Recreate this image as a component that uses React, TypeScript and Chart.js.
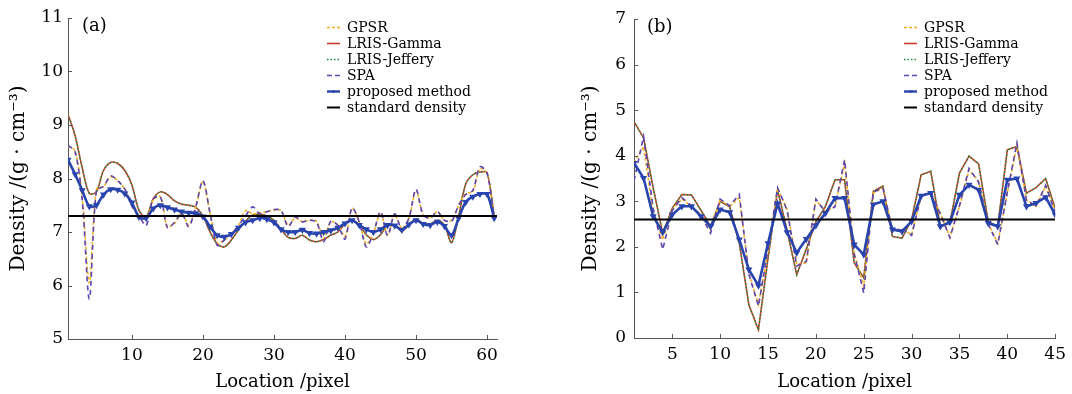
import React, { useEffect, useRef } from 'react';
import { Chart, registerables } from 'chart.js';

Chart.register(...registerables);

const FONT = '"DejaVu Serif", "Liberation Serif", serif';

// ---------- Panel (a) ----------
const locationsA = Array.from({ length: 61 }, (_, i) => i + 1);
const xTicksA = [10, 20, 30, 40, 50, 60];
const standardA = 7.3;
const gpsrA = [
  8.6, 8.52, 7.66, 6.05, 7.8, 7.85, 8.03, 7.96, 7.8, 7.5,
  7.3, 7.25, 7.6, 7.66, 7.1, 7.16, 7.35, 7.13, 7.47, 7.94,
  7.35, 6.8, 6.85, 6.97, 7.12, 7.4, 7.34, 7.36, 7.38, 7.41,
  7.4, 7.13, 7.26, 7.19, 7.22, 7.2, 6.88, 7.19, 7.13, 6.92,
  7.44, 7.19, 6.78, 6.98, 7.36, 6.95, 7.32, 7.07, 7.26, 7.78,
  7.32, 7.26, 7.38, 7.22, 7.22, 7.5, 7.72, 7.75, 8.18, 8.1, 7.3,
];
const gammaA = [
  9.2, 8.8, 8.2, 7.72, 7.75, 8.15, 8.3, 8.28, 8.15, 7.88,
  7.4, 7.28, 7.62, 7.75, 7.7, 7.58, 7.52, 7.5, 7.46, 7.3,
  7.0, 6.78, 6.72, 6.85, 7.04, 7.2, 7.32, 7.33, 7.3, 7.22,
  7.05, 6.9, 6.88, 6.94, 6.85, 6.82, 6.86, 6.94, 7.0, 7.15,
  7.22, 7.13, 6.95, 6.86, 6.95, 7.13, 7.12, 7.02, 7.14, 7.24,
  7.16, 7.15, 7.22, 7.13, 6.8, 7.3, 7.9, 8.07, 8.12, 8.11, 7.3,
];
const jefferyA = [
  9.2, 8.8, 8.2, 7.72, 7.75, 8.15, 8.3, 8.28, 8.15, 7.88,
  7.4, 7.28, 7.62, 7.75, 7.7, 7.58, 7.52, 7.5, 7.46, 7.3,
  7.0, 6.78, 6.72, 6.85, 7.04, 7.2, 7.32, 7.33, 7.3, 7.22,
  7.05, 6.9, 6.88, 6.94, 6.85, 6.82, 6.86, 6.94, 7.0, 7.15,
  7.22, 7.13, 6.95, 6.86, 6.95, 7.13, 7.12, 7.02, 7.14, 7.24,
  7.16, 7.15, 7.22, 7.13, 6.8, 7.3, 7.9, 8.07, 8.12, 8.11, 7.3,
];
const spaA = [
  8.62, 8.5, 7.6, 5.75, 7.78, 7.85, 8.05, 7.96, 7.8, 7.48,
  7.3, 7.12, 7.62, 7.66, 7.08, 7.18, 7.35, 7.1, 7.48, 7.96,
  7.35, 6.75, 6.85, 6.97, 7.12, 7.3, 7.47, 7.34, 7.38, 7.42,
  7.4, 7.1, 7.28, 7.19, 7.22, 7.18, 6.82, 7.2, 7.12, 6.87,
  7.45, 7.19, 6.72, 6.98, 7.38, 6.93, 7.34, 7.05, 7.26, 7.8,
  7.32, 7.26, 7.38, 7.22, 7.2, 7.5, 7.7, 7.78, 8.22, 8.1, 7.28,
];
const proposedA = [
  8.35, 8.08, 7.78, 7.48, 7.5, 7.7, 7.8, 7.79, 7.72, 7.55,
  7.28, 7.26, 7.44, 7.5, 7.46, 7.42, 7.38, 7.36, 7.35, 7.29,
  7.1, 6.94, 6.91, 6.96, 7.08, 7.18, 7.22, 7.26, 7.24, 7.18,
  7.05, 7.0, 7.0, 7.04, 6.98, 6.97, 7.0, 7.03, 7.08, 7.16,
  7.22, 7.13, 7.05, 7.0, 7.05, 7.13, 7.12, 7.04, 7.14, 7.22,
  7.15, 7.13, 7.19, 7.11, 6.94, 7.26, 7.56, 7.66, 7.71, 7.71, 7.26,
];

// ---------- Panel (b) ----------
const locationsB = Array.from({ length: 45 }, (_, i) => i + 1);
const xTicksB = [5, 10, 15, 20, 25, 30, 35, 40, 45];
const standardB = 2.6;
const gpsrB = [
  3.85, 4.2, 2.75, 2.16, 2.82, 3.05, 2.89, 2.7, 2.38, 3.03,
  2.89, 3.08, 1.43, 0.73, 1.9, 3.28, 2.82, 1.61, 1.65, 3.03,
  2.78, 2.89, 3.84, 1.87, 1.13, 3.18, 3.29, 2.38, 2.38, 2.27,
  3.11, 3.18, 2.74, 2.22, 2.89, 3.69, 3.44, 2.52, 2.08, 3.18,
  4.22, 3.03, 2.89, 3.33, 2.78,
];
const gammaB = [
  4.75, 4.39, 3.3, 2.3, 2.85, 3.15, 3.14, 2.8, 2.45, 3.0,
  2.88, 2.08, 0.73, 0.18, 1.75, 3.25, 2.35, 1.39, 1.95, 2.55,
  2.89, 3.47, 3.47, 1.65, 1.32, 3.22, 3.33, 2.23, 2.19, 2.6,
  3.58, 3.66, 2.45, 2.52, 3.62, 3.99, 3.82, 2.56, 2.45, 4.13,
  4.2, 3.18, 3.3, 3.5, 2.85,
];
const jefferyB = [
  4.75, 4.39, 3.3, 2.3, 2.85, 3.15, 3.14, 2.8, 2.45, 3.0,
  2.88, 2.08, 0.73, 0.18, 1.75, 3.25, 2.35, 1.39, 1.95, 2.55,
  2.89, 3.47, 3.47, 1.65, 1.32, 3.22, 3.33, 2.23, 2.19, 2.6,
  3.58, 3.66, 2.45, 2.52, 3.62, 3.99, 3.82, 2.56, 2.45, 4.13,
  4.2, 3.18, 3.3, 3.5, 2.85,
];
const spaB = [
  3.45, 4.42, 2.85, 1.94, 2.8, 3.08, 2.9, 2.68, 2.3, 3.05,
  2.9, 3.15, 1.4, 0.7, 1.95, 3.3, 2.8, 1.58, 1.68, 3.05,
  2.76, 2.88, 3.91, 1.85, 0.99, 3.2, 3.3, 2.36, 2.4, 2.25,
  3.12, 3.2, 2.72, 2.2, 2.9, 3.72, 3.42, 2.5, 2.05, 3.2,
  4.28, 3.02, 2.9, 3.35, 2.76,
];
const proposedB = [
  3.84, 3.51, 2.67, 2.32, 2.71, 2.89, 2.89, 2.67, 2.45, 2.82,
  2.76, 2.16, 1.5, 1.15, 2.08, 2.95, 2.32, 1.87, 2.17, 2.47,
  2.74, 3.07, 3.07, 2.05, 1.83, 2.93, 3.0, 2.38, 2.34, 2.56,
  3.12, 3.18, 2.45, 2.54, 3.14, 3.36, 3.25, 2.52, 2.45, 3.47,
  3.5, 2.89, 2.96, 3.09, 2.71,
];

const seriesNames = ['GPSR', 'LRIS-Gamma', 'LRIS-Jeffery', 'SPA', 'proposed method', 'standard density'];

const STYLES = [
  { color: '#f0b024', width: 1.6, dash: [3, 2], order: 3 },
  { color: '#cf3a2a', width: 1.5, dash: [], order: 5 },
  { color: '#1f8a3a', width: 1.5, dash: [1.5, 2], order: 4 },
  { color: '#5e44b0', width: 1.6, dash: [5, 4], order: 2 },
  { color: '#2a44ae', width: 2.6, dash: [], order: 1 },
  { color: '#000000', width: 2, dash: [], order: 0 },
];

const decorPlugin = {
  id: 'decor',
  afterDraw(chart: any, _args: any, opts: any) {
    const ctx = chart.ctx;
    const xs = chart.scales.x;
    const ys = chart.scales.y;
    ctx.save();
    // inward tick marks
    ctx.strokeStyle = '#555';
    ctx.lineWidth = 1;
    ctx.setLineDash([]);
    ctx.beginPath();
    xs.ticks.forEach((t: any) => {
      const px = Math.round(xs.getPixelForValue(t.value)) + 0.5;
      ctx.moveTo(px, ys.bottom);
      ctx.lineTo(px, ys.bottom - 4);
    });
    ys.ticks.forEach((t: any) => {
      const py = Math.round(ys.getPixelForValue(t.value)) + 0.5;
      ctx.moveTo(xs.left, py);
      ctx.lineTo(xs.left + 4, py);
    });
    ctx.stroke();

    // panel label
    ctx.fillStyle = '#000';
    ctx.font = `18px ${FONT}`;
    ctx.textBaseline = 'alphabetic';
    ctx.textAlign = 'left';
    ctx.fillText(opts.label, opts.labelX, opts.labelY);

    // legend
    ctx.font = `14px ${FONT}`;
    ctx.textBaseline = 'middle';
    seriesNames.forEach((name, i) => {
      const st = STYLES[i];
      const y = opts.legY + i * 16;
      const x0 = opts.legX;
      ctx.strokeStyle = st.color;
      ctx.lineWidth = i === 5 ? 2 : i === 4 ? 2.4 : 1.6;
      ctx.setLineDash(i === 3 ? [5, 3] : st.dash);
      ctx.beginPath();
      ctx.moveTo(x0, y + 0.5);
      ctx.lineTo(x0 + 13, y + 0.5);
      ctx.stroke();
      ctx.setLineDash([]);
      if (i === 4) {
        ctx.fillStyle = st.color;
        ctx.beginPath();
        ctx.moveTo(x0 + 4.5, y - 0.5);
        ctx.lineTo(x0 + 8.5, y - 0.5);
        ctx.lineTo(x0 + 6.5, y + 2.5);
        ctx.closePath();
        ctx.fill();
      }
      ctx.fillStyle = '#000';
      ctx.fillText(name, x0 + 20, y + 1);
    });
    ctx.restore();
  },
};

function buildConfig(p: any) {
  const { locs, series, standard, xMax, xTicks, yMin, yMax, yWidth, xHeight, pad, titlePadTop, tickPad, deco, tension } = p;
  const datasets = series.map((vals: number[], i: number) => ({
    label: seriesNames[i],
    data: locs.map((x: number, k: number) => ({ x, y: vals[k] })),
    borderColor: STYLES[i].color,
    backgroundColor: STYLES[i].color,
    borderWidth: STYLES[i].width,
    borderDash: STYLES[i].dash,
    pointRadius: i === 4 ? 1.5 : 0,
    pointStyle: 'triangle',
    rotation: 180,
    tension,
    order: STYLES[i].order,
    fill: false,
  }));
  datasets.push({
    label: seriesNames[5],
    data: [{ x: 1, y: standard }, { x: xMax, y: standard }],
    borderColor: STYLES[5].color,
    backgroundColor: STYLES[5].color,
    borderWidth: STYLES[5].width,
    borderDash: [],
    pointRadius: 0,
    pointStyle: 'circle',
    rotation: 0,
    tension: 0,
    order: STYLES[5].order,
    fill: false,
  });
  return {
    type: 'line',
    data: { datasets },
    plugins: [decorPlugin],
    options: {
      animation: false,
      responsive: false,
      devicePixelRatio: 1,
      layout: { padding: pad },
      plugins: {
        legend: { display: false },
        tooltip: { enabled: false },
        decor: deco,
      },
      scales: {
        x: {
          type: 'linear',
          min: 1,
          max: xMax,
          grid: { display: false, drawTicks: false },
          border: { display: true, color: '#555', width: 1 },
          afterBuildTicks: (scale: any) => {
            scale.ticks = xTicks.map((v: number) => ({ value: v }));
          },
          afterFit: (scale: any) => {
            scale.height = xHeight;
          },
          ticks: {
            color: '#000',
            font: { family: FONT, size: 17 },
            padding: 6,
            maxRotation: 0,
            autoSkip: false,
          },
          title: {
            display: true,
            text: 'Location /pixel',
            color: '#000',
            font: { family: FONT, size: 18 },
            padding: { top: 0, bottom: 1 },
          },
        },
        y: {
          type: 'linear',
          min: yMin,
          max: yMax,
          grid: { display: false, drawTicks: false },
          border: { display: true, color: '#555', width: 1 },
          afterFit: (scale: any) => {
            scale.width = yWidth;
          },
          ticks: {
            color: '#000',
            font: { family: FONT, size: 17 },
            stepSize: 1,
            padding: tickPad,
          },
          title: {
            display: true,
            text: 'Density /(g · cm⁻³)',
            color: '#000',
            font: { family: FONT, size: 20 },
            padding: { top: titlePadTop, bottom: 0 },
          },
        },
      },
    },
  };
}

function Panel(props: any) {
  const ref = useRef<HTMLCanvasElement | null>(null);
  useEffect(() => {
    if (!ref.current) return;
    const chart = new Chart(ref.current, buildConfig(props.cfg) as any);
    return () => chart.destroy();
  }, []);
  return (
    <canvas
      ref={ref}
      width={props.w}
      height={394}
      style={{ position: 'absolute', left: props.left, top: 0, width: props.w, height: 394 }}
    />
  );
}

const cfgA = {
  locs: locationsA,
  series: [gpsrA, gammaA, jefferyA, spaA, proposedA],
  standard: standardA,
  xMax: 61.4,
  xTicks: xTicksA,
  yMin: 5,
  yMax: 11,
  yWidth: 68,
  xHeight: 55,
  pad: { top: 18, right: 33, left: 0, bottom: 0 },
  titlePadTop: 7,
  tickPad: 5,
  tension: 0.3,
  deco: { label: '(a)', labelX: 82, labelY: 31, legX: 327, legY: 27 },
};

const cfgB = {
  locs: locationsB,
  series: [gpsrB, gammaB, jefferyB, spaB, proposedB],
  standard: standardB,
  xMax: 45,
  xTicks: xTicksB,
  yMin: 0,
  yMax: 7,
  yWidth: 94,
  xHeight: 56,
  pad: { top: 19, right: 10, left: 0, bottom: 0 },
  titlePadTop: 39,
  tickPad: 8,
  tension: 0,
  deco: { label: '(b)', labelX: 107, labelY: 32, legX: 364, legY: 27 },
};

export default function App() {
  return (
    <div style={{ position: 'fixed', left: 0, top: 0, width: 1072, height: 394, background: '#fff', overflow: 'hidden' }}>
      <Panel cfg={cfgA} left={0} w={530} />
      <Panel cfg={cfgB} left={540} w={532} />
    </div>
  );
}
